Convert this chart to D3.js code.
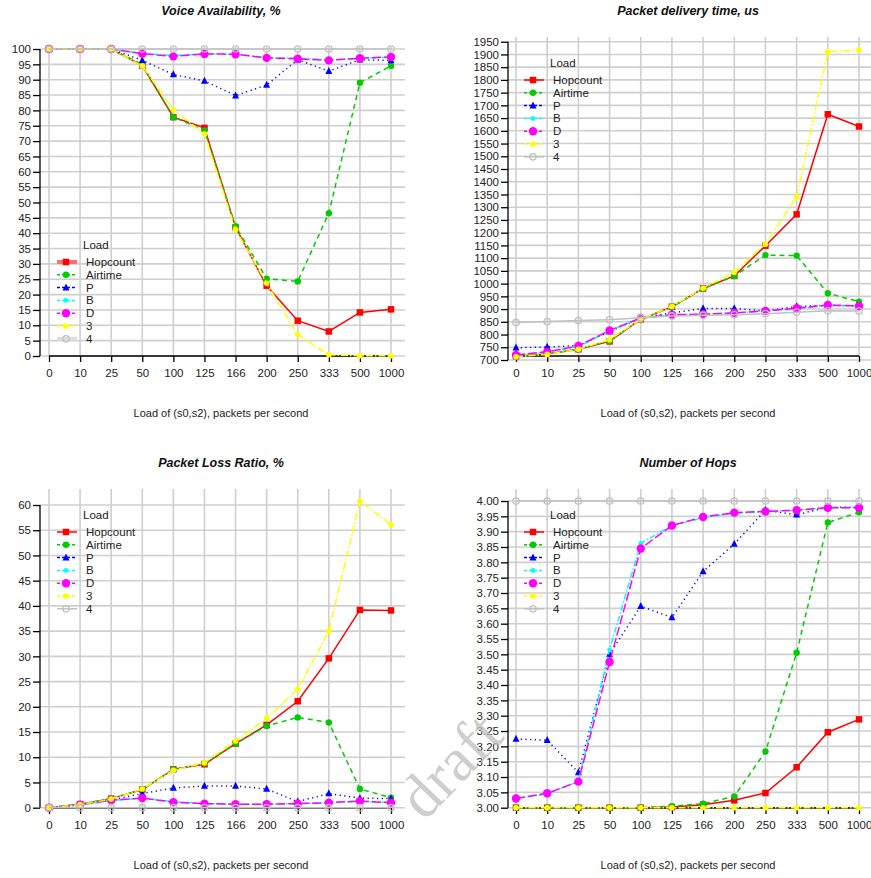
<!DOCTYPE html>
<html><head><meta charset="utf-8">
<script src="https://cdn.jsdelivr.net/npm/d3@7"></script>
<style>body{margin:0;background:#fff}svg text{font-family:"Liberation Sans",Arial,sans-serif}</style>
</head><body>
<svg id="c" width="871" height="878"></svg>
<script>
const categories = ["0","10","25","50","100","125","166","200","250","333","500","1000"];
const seriesNames = ["Hopcount","Airtime","P","B","D","3","4"];

const voiceHopcount = [100,100,100,94.6,77.8,74.3,41.9,22.9,11.5,8.0,14.2,15.2];
const voiceAirtime  = [100,100,100,95,77.8,73.5,42.3,25.2,24.3,46.5,89,94.5];
const voiceP        = [100,100,100,96.3,91.7,89.6,84.8,88.3,96.5,92.8,96.5,96.3];
const voiceB        = [100,100,100,98.5,97.9,98.4,98.3,97.2,97.0,96.5,96.9,97.4];
const voiceD        = [100,100,100,98.5,97.6,98.4,98.3,97.1,96.8,96.3,97.0,97.4];
const voice3        = [100,100,100,94.5,80.2,72.3,41.2,23.7,7.0,0.4,0.1,0.1];
const voice4        = [100,100,100,100,100,100,100,100,100,100,100,100];

const delayHopcount = [715,724,742,773,860,909,981,1030,1149,1272,1665,1617];
const delayAirtime  = [715,724,742,775,860,908,980,1030,1112,1110,962,929];
const delayP        = [748,751,757,812,865,885,902,902,893,910,915,912];
const delayB        = [720,732,752,815,865,877,880,885,892,900,915,912];
const delayD        = [720,732,755,816,865,878,880,885,893,903,916,912];
const delay3        = [713,722,742,780,860,910,982,1045,1155,1340,1910,1918];
const delay4        = [847,851,855,858,866,873,876,878,882,888,893,892];

const lossHopcount = [0,0.7,1.8,3.6,7.6,8.6,12.7,16.4,21.1,29.6,39.2,39.1];
const lossAirtime  = [0,0.7,1.8,3.6,7.6,8.8,12.7,16.2,17.9,16.9,3.7,2.0];
const lossP        = [0,0.6,1.5,2.8,3.9,4.3,4.3,3.7,1.2,2.8,1.9,1.8];
const lossB        = [0,0.5,1.4,1.9,1.2,0.8,0.7,0.7,0.8,1.0,1.3,1.0];
const lossD        = [0,0.6,1.5,1.9,1.1,0.8,0.7,0.7,0.8,1.0,1.3,1.0];
const loss3        = [0,0.6,1.7,3.7,7.4,8.9,13.2,17.7,23.5,35.0,60.8,56.1];
const loss4        = [0,0,0,0,0,0,0,0,0,0,0,0];

const hopsHopcount = [3,3,3,3,3,3.002,3.01,3.024,3.048,3.132,3.246,3.288];
const hopsAirtime  = [3,3,3,3,3,3.005,3.013,3.037,3.183,3.505,3.930,3.963];
const hopsP        = [3.224,3.22,3.115,3.50,3.657,3.62,3.77,3.86,3.97,3.955,3.98,3.98];
const hopsB        = [3.03,3.045,3.085,3.515,3.862,3.92,3.945,3.96,3.965,3.97,3.978,3.98];
const hopsD        = [3.03,3.047,3.085,3.475,3.845,3.92,3.948,3.962,3.966,3.97,3.978,3.978];
const hops3        = [3,3,3,3,3,3,3,3,3,3,3,3];
const hops4        = [4,4,4,4,4,4,4,4,4,4,4,4];

const titles = ["Voice Availability, %","Packet delivery time, us","Packet Loss Ratio, %","Number of Hops"];
const xLabel = "Load of (s0,s2), packets per second";

const styles = {
  "Hopcount":{color:"#ff0000",dash:null,shape:"square",size:6.5,width:1.5},
  "Airtime":{color:"#00cc00",dash:"5,4",shape:"circle",size:3.2,width:1.5},
  "P":{color:"#0000ff",dash:"1.2,3.5",shape:"triangle",size:7,width:1.5},
  "B":{color:"#00ffff",dash:"6,2,1.5,2",shape:"circle",size:2.3,width:1.5},
  "D":{color:"#ff00ff",dash:"9,3",shape:"circle",size:4.2,width:1.5},
  "3":{color:"#ffff00",dash:"7,2,1.5,2",shape:"circle",size:2.8,width:1.5},
  "4":{color:"#c0c0c0",dash:null,shape:"open",size:3.2,width:1.5}
};

const panels = [
  {data:[voiceHopcount,voiceAirtime,voiceP,voiceB,voiceD,voice3,voice4], domain:[0,100], yr:[356,49], step:5, fmt:d3.format("d"),
   axisX:40, x0:49, x1:391, xAxisY:356, gridTop:47, gridRight:405, titleY:15, xlabY:417, cx:221, legX:57, legY:245, thick:true},
  {data:[delayHopcount,delayAirtime,delayP,delayB,delayD,delay3,delay4], domain:[700,1950], yr:[360,41.7], step:50, fmt:d3.format("d"),
   axisX:508, x0:516, x1:859, xAxisY:356, gridTop:37, gridRight:871, titleY:15, xlabY:417, cx:688, legX:524, legY:63, thick:false},
  {data:[lossHopcount,lossAirtime,lossP,lossB,lossD,loss3,loss4], domain:[0,60], yr:[807.7,505], step:5, fmt:d3.format("d"),
   axisX:40, x0:49, x1:391, xAxisY:808, gridTop:489, gridRight:405, titleY:467, xlabY:869, cx:221, legX:57, legY:515, thick:false},
  {data:[hopsHopcount,hopsAirtime,hopsP,hopsB,hopsD,hops3,hops4], domain:[3,4], yr:[807.7,501], step:0.05, fmt:d3.format(".2f"),
   axisX:508, x0:516, x1:859, xAxisY:808, gridTop:489, gridRight:871, titleY:467, xlabY:869, cx:688, legX:524, legY:515, thick:false}
];

const svg = d3.select("#c");

function drawMarker(g, shape, x, y, st) {
  if (shape==="square") {
    g.append("rect").attr("x",x-st.size/2).attr("y",y-st.size/2).attr("width",st.size).attr("height",st.size).attr("fill",st.color);
  } else if (shape==="triangle") {
    const s=st.size;
    g.append("path").attr("d",`M${x},${y-s*0.6}L${x+s/2},${y+s*0.4}L${x-s/2},${y+s*0.4}Z`).attr("fill",st.color);
  } else if (shape==="open") {
    g.append("circle").attr("cx",x).attr("cy",y).attr("r",st.size).attr("fill","none").attr("stroke",st.color).attr("stroke-width",1.3);
  } else {
    g.append("circle").attr("cx",x).attr("cy",y).attr("r",st.size).attr("fill",st.color);
  }
}

panels.forEach((p,pi) => {
  const g = svg.append("g");
  const x = d3.scalePoint().domain(categories).range([p.x0,p.x1]);
  const y = d3.scaleLinear().domain(p.domain).range(p.yr);
  const n = Math.round((p.domain[1]-p.domain[0])/p.step);
  const ticks = d3.range(n+1).map(i => p.domain[0]+i*p.step);

  // grid
  g.selectAll(".hg").data(ticks).enter().append("line")
    .attr("x1",p.axisX).attr("x2",p.gridRight).attr("y1",d=>y(d)).attr("y2",d=>y(d))
    .attr("stroke","#cfcfcf").attr("stroke-width",1.6);
  g.selectAll(".vg").data(categories).enter().append("line")
    .attr("x1",d=>x(d)).attr("x2",d=>x(d)).attr("y1",p.gridTop).attr("y2",p.xAxisY)
    .attr("stroke","#cfcfcf").attr("stroke-width",1.6);

  // y axis
  const ya = g.append("g").attr("transform",`translate(${p.axisX},0)`)
    .call(d3.axisLeft(y).tickValues(ticks).tickFormat(p.fmt).tickSize(7).tickPadding(2));
  ya.select(".domain").attr("stroke","#000").attr("stroke-width",1.3).attr("d",`M0,${y(p.domain[0])}V${y(p.domain[1])}`);
  ya.selectAll(".tick line").attr("stroke","#000").attr("stroke-width",1.3);
  ya.selectAll("text").attr("font-size",11.5).attr("fill","#222");

  // x axis
  const xa = g.append("g").attr("transform",`translate(0,${p.xAxisY})`)
    .call(d3.axisBottom(x).tickSize(6).tickPadding(7));
  xa.select(".domain").attr("stroke","#000").attr("stroke-width",1.3).attr("d",`M${p.x0},0H${p.x1}`);
  xa.selectAll(".tick line").attr("stroke","#000").attr("stroke-width",1.3);
  xa.selectAll("text").attr("font-size",11.5).attr("fill","#222");

  // title and x label
  g.append("text").attr("x",p.cx).attr("y",p.titleY).attr("text-anchor","middle")
    .attr("font-size",12.5).attr("font-weight","bold").attr("font-style","italic").attr("fill","#111").text(titles[pi]);
  g.append("text").attr("x",p.cx).attr("y",p.xlabY).attr("text-anchor","middle")
    .attr("font-size",11).attr("fill","#222").text(xLabel);

  // series
  seriesNames.forEach((name,si) => {
    const st = styles[name];
    const vals = p.data[si];
    const line = d3.line().x((d,i)=>x(categories[i])).y(d=>y(d));
    g.append("path").attr("d",line(vals)).attr("fill","none").attr("stroke",st.color)
      .attr("stroke-width",st.width).attr("stroke-dasharray",st.dash);
    const mg = g.append("g");
    vals.forEach((v,i) => drawMarker(mg, st.shape, x(categories[i]), y(v), st));
  });

  // legend
  const lg = g.append("g");
  lg.append("text").attr("x",p.legX+26).attr("y",p.legY+4).attr("font-size",11.5).attr("fill","#222").text("Load");
  seriesNames.forEach((name,si) => {
    const st = styles[name];
    const ly = p.legY + 17 + si*12.8;
    let col = st.color, w = st.width;
    if (p.thick && name==="Hopcount") { col = "#ff7070"; w = 4; }
    if (p.thick && name==="4") { col = "#dddddd"; w = 4; }
    lg.append("line").attr("x1",p.legX).attr("x2",p.legX+20).attr("y1",ly).attr("y2",ly)
      .attr("stroke",col).attr("stroke-width",w).attr("stroke-dasharray",st.dash ? "3,2" : null);
    drawMarker(lg, st.shape, p.legX+9, ly, st);
    lg.append("text").attr("x",p.legX+29).attr("y",ly+4).attr("font-size",11.5).attr("fill","#222").text(name);
  });
});

// watermark
svg.append("text").attr("transform","translate(455,770) rotate(-46)").attr("text-anchor","middle")
  .attr("dominant-baseline","middle")
  .attr("font-family","'Liberation Serif','DejaVu Serif',serif").attr("font-size",62)
  .attr("fill","#bdbdbd").attr("fill-opacity",0.75).style("font-family","'Liberation Serif',serif").text("draft");
</script>
</body></html>
